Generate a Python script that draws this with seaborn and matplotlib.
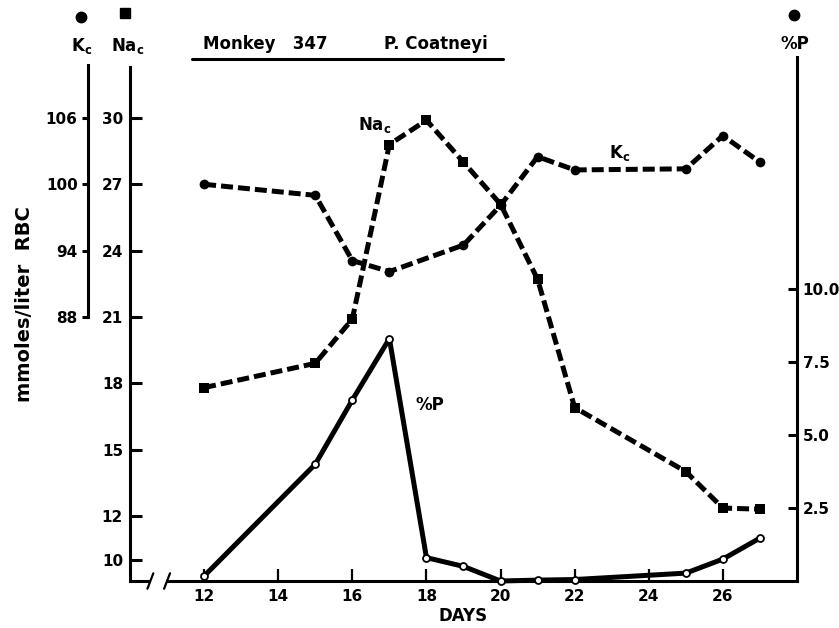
import matplotlib
matplotlib.use("Agg")
import matplotlib.pyplot as plt
from matplotlib.lines import Line2D
import seaborn as sns
import pandas as pd

# ---- data ----
kc_days = [12, 15, 16, 17, 19, 20, 21, 22, 25, 26, 27]
kc_values = [100.0, 99.0, 93.1, 92.1, 94.5, 98.1, 102.5, 101.3, 101.4, 104.4, 102.0]

na_days = [12, 15, 16, 17, 18, 19, 20, 21, 22, 25, 26, 27]
na_values = [17.8, 18.9, 20.9, 28.8, 29.9, 28.0, 26.1, 22.7, 16.9, 14.0, 12.35, 12.3]

p_days = [12, 15, 16, 17, 18, 19, 20, 21, 22, 25, 26, 27]
p_values = [0.17, 4.0, 6.2, 8.3, 0.8, 0.5, 0.0, 0.03, 0.05, 0.27, 0.75, 1.47]

day_ticks = [12, 14, 16, 18, 20, 22, 24, 26]
na_ticks = [10, 12, 15, 18, 21, 24, 27, 30]
kc_ticks = [88, 94, 100, 106]
p_ticks = [2.5, 5.0, 7.5, 10.0]
p_tick_labels = ["2.5", "5.0", "7.5", "10.0"]

kc_df = pd.DataFrame({"day": kc_days, "kc": kc_values})
na_df = pd.DataFrame({"day": na_days, "na": na_values})
p_df = pd.DataFrame({"day": p_days, "p": p_values})

sns.set_style("white")
plt.rcParams["font.family"] = ["DejaVu Sans"]
plt.rcParams["mathtext.fontset"] = "dejavusans"
plt.rcParams["text.color"] = "black"
plt.rcParams["axes.labelcolor"] = "black"
plt.rcParams["xtick.color"] = "black"
plt.rcParams["ytick.color"] = "black"

W, H = 839, 628
fig = plt.figure(figsize=(W / 100, H / 100), dpi=100)

def fx(px):
    return px / W

def fy(py):
    return 1 - py / H

ax_left, ax_right, ax_top, ax_bot = 130, 797, 57, 581
ax = fig.add_axes([fx(ax_left), fy(ax_bot), fx(ax_right - ax_left), fy(ax_top) - fy(ax_bot)])
ax_k = ax.twinx()
ax_p = ax.twinx()

# scales
na_lo, na_hi = 9.05, 32.76
ax.set_xlim(10, 28)
ax.set_ylim(na_lo, na_hi)
ax_k.set_ylim(2 * na_lo + 46, 2 * na_hi + 46)
ax_p.set_ylim(0, (ax_bot - ax_top) / 29.2)

lw_axis = 2.2
dash = (0, (2.4, 1.0))

# series
sns.lineplot(data=kc_df, x="day", y="kc", ax=ax_k, color="black", linewidth=3.6,
             linestyle=dash, marker="o", markersize=7, markeredgewidth=0,
             markerfacecolor="black", clip_on=False)
sns.lineplot(data=na_df, x="day", y="na", ax=ax, color="black", linewidth=3.6,
             linestyle=dash, marker="s", markersize=7, markeredgewidth=0,
             markerfacecolor="black", clip_on=False)
sns.lineplot(data=p_df, x="day", y="p", ax=ax_p, color="black", linewidth=3.6,
             marker="o", markersize=5, markerfacecolor="white",
             markeredgecolor="black", markeredgewidth=1.3, clip_on=False)

for a in (ax, ax_k, ax_p):
    a.set_xlabel("")
    a.set_ylabel("")
    for s in a.spines.values():
        s.set_visible(False)
        s.set_linewidth(lw_axis)
        s.set_color("black")

tick_font = dict(fontsize=11, fontweight="bold", color="black")

# Na axis (left, ticks inward)
ax.spines["left"].set_visible(True)
ax.spines["left"].set_bounds(na_lo, 30 + (118 - 67) / 22.1)
ax.set_yticks(na_ticks)
ax.set_yticklabels([str(t) for t in na_ticks], **tick_font)
ax.tick_params(axis="y", direction="in", length=8.5, width=lw_axis, pad=5, left=True)

# x axis (bottom, with break)
ax.spines["bottom"].set_visible(True)
ax.spines["bottom"].set_bounds(11.0, 28)
ax.set_xticks(day_ticks)
ax.set_xticklabels([str(t) for t in day_ticks], **tick_font)
ax.tick_params(axis="x", direction="in", length=8.5, width=1.6, pad=6, bottom=True)
ax.plot([10, 10.55], [na_lo, na_lo], color="black", lw=lw_axis, clip_on=False,
        solid_capstyle="butt")
for xb in (10.55, 11.0):
    ax.plot([xb - 0.08, xb + 0.08], [na_lo - 0.35, na_lo + 0.35], color="black",
            lw=1.6, clip_on=False)
ax.set_xlabel("DAYS", fontsize=12, fontweight="bold", labelpad=2, color="black")

# Kc axis (far left, ticks outward)
ax_k.yaxis.set_ticks_position("left")
ax_k.yaxis.set_label_position("left")
ax_k.spines["left"].set_visible(True)
ax_k.spines["left"].set_position(("outward", 42 * 0.72))
ax_k.spines["left"].set_bounds(88, 106 + (118 - 65) / 11.05)
ax_k.set_yticks(kc_ticks)
ax_k.set_yticklabels([str(t) for t in kc_ticks], **tick_font)
ax_k.tick_params(axis="y", direction="out", length=4.5, width=lw_axis, pad=3,
                 left=True, right=False, labelleft=True, labelright=False)

# %P axis (right, ticks inward)
ax_p.spines["right"].set_visible(True)
ax_p.set_yticks(p_ticks)
ax_p.set_yticklabels(p_tick_labels, **tick_font)
ax_p.tick_params(axis="y", direction="in", length=6.5, width=lw_axis, pad=4,
                 right=True, left=False)

for a in (ax_k, ax_p):
    a.tick_params(axis="x", bottom=False, top=False, labelbottom=False)

# in-plot labels
ax.text(16.6, 29.7, r"$\mathbf{Na_c}$", fontsize=12, ha="center", va="center")
ax.text(23.2, 28.4, r"$\mathbf{K_c}$", fontsize=12, ha="center", va="center")
ax.text(18.1, 17.0, "%P", fontsize=12, fontweight="bold", ha="center", va="center")

# outer labels
fig.text(fx(25), fy(304), "mmoles/liter  RBC", rotation=90, fontsize=14,
         fontweight="bold", ha="center", va="center")
fig.text(fx(82), fy(46), r"$\mathbf{K_c}$", fontsize=12, ha="center", va="center")
fig.text(fx(128), fy(46), r"$\mathbf{Na_c}$", fontsize=12, ha="center", va="center")
fig.text(fx(795), fy(44), "%P", fontsize=12, fontweight="bold", ha="center", va="center")
fig.add_artist(Line2D([fx(81)], [fy(17)], marker="o", markersize=7.5, color="black",
                      transform=fig.transFigure))
fig.add_artist(Line2D([fx(125)], [fy(13)], marker="s", markersize=7, color="black",
                      transform=fig.transFigure))
fig.add_artist(Line2D([fx(794)], [fy(15)], marker="o", markersize=7.5, color="black",
                      transform=fig.transFigure))

fig.text(fx(203), fy(49), "Monkey   347", fontsize=12, fontweight="bold",
         ha="left", va="baseline")
fig.text(fx(384), fy(49), "P. Coatneyi", fontsize=12, fontweight="bold",
         ha="left", va="baseline")
fig.add_artist(Line2D([fx(192), fx(503)], [fy(59), fy(59)], color="black", lw=2.2,
                      transform=fig.transFigure))

fig.savefig("out.png", dpi=100)
